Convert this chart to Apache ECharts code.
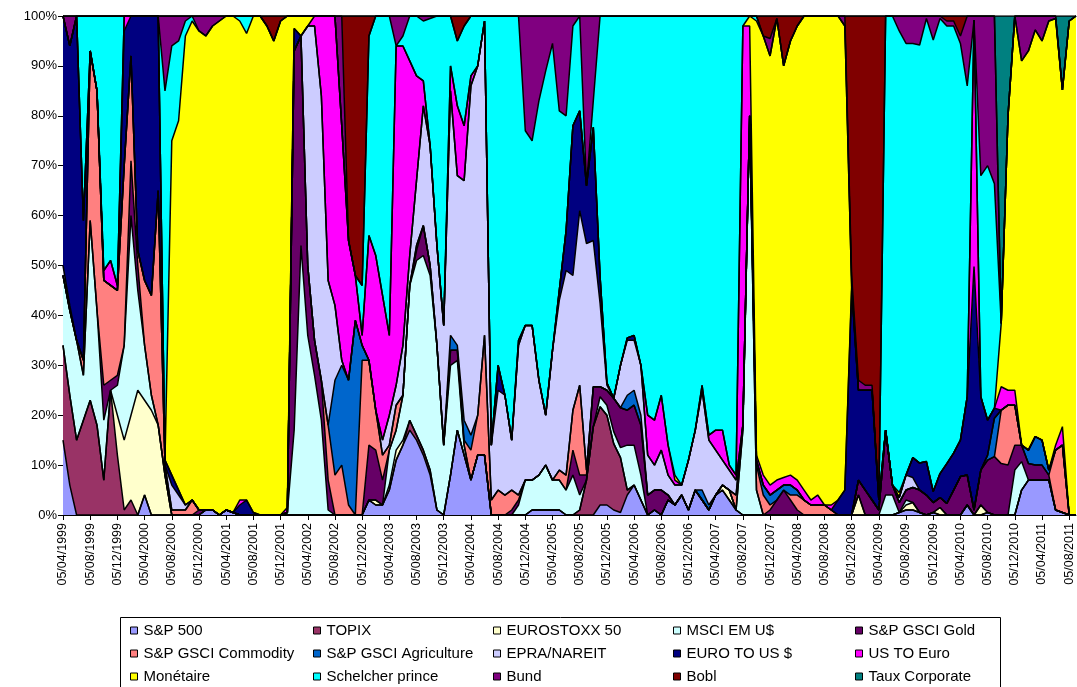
<!DOCTYPE html>
<html>
<head>
<meta charset="utf-8">
<script src="https://cdn.jsdelivr.net/npm/echarts@6/dist/echarts.min.js"></script>
<style>
html,body{margin:0;padding:0;background:#fff;}
#chart{width:1077px;height:687px;}
</style>
</head>
<body>
<div id="chart"></div>
<script>
// Categories: monthly dates 05/04/1999 .. 05/09/2011
const categories = [];
for (let k = 0; k < 150; k++) {
  const m = (3 + k) % 12 + 1;
  const y = 1999 + Math.floor((3 + k) / 12);
  categories.push('05/' + (m < 10 ? '0' + m : m) + '/' + y);
}
const yTicks = [0,10,20,30,40,50,60,70,80,90,100];

const sp500 = [
15,6,0,0,0,0,0,0,0,0,
0,0,4,0,0,0,0,0,0,0,
0,1,1,0,1,0.5,0,0,0,0,
0,0,0,0,0,0,0,0,0,0,
0,0,0,0,0,3,2,2,5,11,
14,17,15,12,8,1,0,8,17,12,
7,12,12,0,0,0,0,0,0,1,
1,1,1,1,0,0,0,0,0,2,
2,1,0.5,4,6,3,0,1,0,3,
2,4,1,5,3,1,4,5,3,1,
0,0,0,0,0,0,0,0,0,0,
0,0,0,0,0,0,0,0,0,0,
0,0,0,0.5,1,1,0.5,0,0.5,0,
0,0,0,2,0,0,0.5,0,0,0,
0,5,7,7,7,7,1,0.5,0,0];

const topix = [
19,18,15,19,23,18,7,25,12,1,
3,0,0,0,0,0,0,0,0,0,
0,0,0,0,0,0,0,0,0,0,
0,0,0,0,0,0,0,0,0,0,
0,0,0,0,0,0,0,0,0,0,
0,2,1,1,1,0,0,0,0,0,
0,0,0,0,0,0,0,0,0,0,
0,0,0,0,0,0,1,7,17.7,19.7,
18,13.3,11,1,0,0,0,0,0,0,
0,0,0,0,0,0,0,0,0,0,
0,0,0,0,0,0,0,0,0,0,
0,0,0,0,0,0,0,0,0,0,
0,0,0,0,0,0,0,0,0,0,
0,0,0,0,0,0,0,0,0,0,
0,0,0,0,0,0,0,0,0,0];

const eurostoxx = [
0,0,0,0,0,0,0,0,8,14,
17,25,19,21,18,8,0,0,0,0,
0,0,0,0,0,0,0,0,0,0,
0,0,0,0,0,0,0,0,0,0,
0,0,0,0,0,0,1,0,1,2,
1,0,0,0,0,0,0,0,0,0,
0,0,0,0,0,0,0,0,0,0,
0,0,0,0,0,0,0,0,0,0,
0,0,0,0,0,0,0,0,0,0,
0,0,0,0,0,0,0,1,2,0,
0,0,0,0,0,0,0,0,0,0,
0,0,0,0,0,0,0,4,0,0,
0,0,0,0,1,1.5,0,0,0,1.5,
0,0,0,0,0,2,0,0,0,0,
0,0,0,0,0,0,0,0,0,0];

const msciEm = [
14,17,20,9,36,23,12,0,6,19,
40,20,11,3,0,0,0,0,0,0,
0,0,0,0,0,0,0,0,0,0,
0,0,0,0.5,17,54,36,28,19,1,
0,0,0,0,0,0,0,0,7,4,
9,27,35,39,39,33,14,22,14,2,
0,0,0,0,0,0,0,2,7,6,
7,9,6,6,5,8,3,0,0,2,
2,2.4,2,9,8,5,0,0,0,0,
0,0,0,0,0,0,0,0,0,0,
17,80,5,0,0,0,0,0,0,0,
0,0,0,0,0,0,0,0,0,0,
0,4,4,0,1,0,0,0,0,0,
0,0,0,0,0,0,0,0,0,0,
9,5.7,0,0,0,0,0,0,0,0];

const gold = [
0,0,0,0,0,0,7,2,2,0,
11,5,0,0,0,0,0,0,0,0,
1,0,0,0,0,0,0,0,0,0,
0,0,0,0,76,42,14,7,8,6,
0,0,0,0,0,11,10,5,0,0,
0,0,2,6,2,0,0,3,2,0,
0,0,0,0,0,0,1,1,0,0,
0,0,0,0,0,5,4,1,8,2,
3,6.7,8,7,8,10,4,4,5,1,
0,0,0,0,0,0,0,0,0,0,
0,0,0,0,1,3,5,3,1,0,
0,0,0,0,0,0,0,3,5,3,
1,13,2,2,2,3,4.5,4,2,2,
2.3,5,7.7,6,1,7,10.5,11.7,10.3,10,
5,3.3,3.3,3,3,1,0,0,0,0];

const commodity = [
0,0,0,3,34,44,21,19,17,36,
21,3,13,20,47,2,1,1,1,3,
0,0,0,0,0,0,0,0,0,0,
0,0,0,0,0,0,0,0,0,11,
8,10,2,0,31,17,8,5,1,5,
0,0,1,0,0,0,0,0,0,1,
6,8,24,3,5,4,4,1,0,0,
0,0,0,2,3,8,18,1,0,0,
0,0,0,0,0,0,0,0,0,0,
0,0,0,0,0,0,0,0,0,3,
1,0,5,4,1,0,0,1,3,3,
2,2,2,1,0,0,0,0,0,0,
0,0,0,0,0,0,0,0,0,0,
0,0,0,0,0,0,0,0,10.7,12,
8,0,0,0,0,0,12,13.5,0,0];

const agriculture = [
0,0,0,0,0,0,0,0,0,0,
0,0,0,0,0,0,0,0,0,0,
0,0,0,0,0,0,0,0,0,0,
0,0,0,0,0,0,0,0,0,0,
19,20,25,39,3,0,0,0,0,0,
0,0,0,0,0,0,0,3,1,4,
3,0,0,0,0,0,0,0,0,0,
0,0,0,0,0,0,0,0,0,0,
0,0,0,3,3,2,0,0,0,0,
0,0,0,0,2,1,0,0,0,0,
0,0,1,2,2,2,1,2,1,0,
0,0,0,0,0,0,0,0,0,0,
0,0,0,0,0,0,0,0,0,0,
0,0,0,0,0,0,1,7.7,0,0,
0,0,2.7,5.7,5,1,0,0,0,0];

const epra = [
2,1,0,0,0,0,0,0,0,0,
0,0,0,0,0,0,5,3,1,0,
0,0,0,0,0,0,0,0,0,0,
0,0,0,0,0,0,48,63,57,29,
15,1,0,0,0,0,0,3,6,4,
10,6,13,24,24,20,24,49,34,48,
70,70,63,11,20,20,10,30,31,31,
19,10,26,34,41,27,35,45.4,29.3,16.7,
1,0,8.5,11,10,10,8,5,8,4,
4,2,10,12,20,13,9,5,4,3,
0,0,0,0,0,0,0,0,0,0,
0,0,0,0,0,0,0,0,0,0,
0,0,0,1,3,2,0,0,0,0,
0,0,0,0,0,0,0,0,0,0,
0,0,0,0,0,0,0,0,0,0];

const euroToUs = [
50,52,65,28,0,0,0,0,0,27,
8,47,53,56,35,1,2,1,0,0,
0,0,0,0,0,0,2,3,0.5,0,
0,0,0,0,4.5,0,0,0,0,0,
0,0,0,0,0,0,0,0,0,0,
0,0,0,0,0,0,0,0,0,0,
0,0,0,0,5,0,0,0,0,0,
0,0,0,2,8,30,20,11.6,22.7,5.3,
0.5,0,0,0.5,1,0,0,0,0,0,
0,0,0,0,0,0,0,0,0,0,
0,0,0,0,0,0,0,0,0,0,
0,0,0,0,3,5,45,18,20,22,
2,0,0,0,0,4,5.4,6.7,2.2,4.8,
8,7.4,7.3,15.7,48.8,14.7,7,2,0,0,
0,0,0,0,0,0,0,0,0,0];

const usToEuro = [
0,0,0,0,0,0,2,5,1,3,
0,0,0,0,0,0,0,0,0,0,
0,0,0,0,0,0,1,0,0,0,
0,0,0,1,0,0,0,2,16,53,
58,47,28,9,2,25,31,29,16,68,
60,39,21,5,0,0,0,5,14,11,
2,0,0,0,0,0,0,1,0,0,
0,0,0,0,0,0,0,0,0,0,
0,0,0,0,0,0,8,9,11,6,
1,0,0,0,1,1,4,6,1,1,
80,18,1,2,2,2,1.5,2,2,2,
1,2,0,1,0,0,1,0,0,0,
0,0,0,0,0,0,0,0,0,0,
0,0,0,0,49.4,0,0,0,4.7,3,
3,0,0,0,0,0,1,3.7,0,0];

const monetaire = [
0,0,0,0,0,0,0,0,0,0,
0,0,0,0,0,0,67,74,94,96,
96,95,97,99,99,99.5,96,93.5,99.5,100,
98,95,99,98.5,2.5,4,2,0,0,0,
0,0,0,0,0,0,0,0,0,0,
0,0,0,0,0,0,0,0,0,0,
0,0,0,0,0,0,0,0,0,0,
0,0,0,0,0,0,0,0,0,0,
0,0,0,0,0,0,0,0,0,0,
1,0,0,0,0,0,0,0,0,0,
0,2,87,88,86,92.5,82.5,87,91,95,
97,96,98,98,97,93,0,0,0,0,
0,0,0,1,0,0,0,0,0,0,
0,0,0,0,0,0,0,0,12.7,55,
75,77,80,81.5,80,90,85.5,67.5,99,100];

const schelcher = [
0,0,0,41,7,15,51,49,54,0,
0,0,0,0,0,74,19,16,3,1,
0,0,0,0,0,0,1,3.5,0,0,
0,0,0,0,0,0,0,0,0,0,
0,0,0,0,10,40,48,56,64,0,
2,9,12,12,25.5,46,62,10,13,20,
12,10,1,86,70,76,85,65,39,37,
56,69,61.5,36,23,20,19,0,5.3,52.3,
73.5,76.6,70,64.5,64,70,80,81,76,86,
92,94,89,83,74,84,83,83,90,92,
2,0,1,0,0,0,0,0,0,0,
0,0,0,0,0,0,0,0,0,0,
0,83,94,92.5,86.5,83,83.8,88.8,90.5,91.2,
87.7,85.6,79.5,62.3,0,44.3,51,45,0,0,
0,0,0,0,0,0,0,0,0,0];

const bund = [
0,6,0,0,0,0,0,0,0,0,
0,0,0,0,0,15,6,5,1,0,
3,4,2,1,0,0,0,0,0,0,
0,0,0,0,0,0,0,0,0,0,
0,22,0,0,0,0,0,0,0,6,
4,0,0,1,0.5,0,0,0,0,0,
0,0,0,0,0,0,0,0,23,25,
17,11,5.5,19,20,2,0,34,17,0,
0,0,0,0,0,0,0,0,0,0,
0,0,0,0,0,0,0,0,0,0,
0,0,0,0,3.5,0,0,0,0,0,
0,0,0,0,0,2,2,2,1,1,
0,0,0,3,5.5,5.5,5.8,0.5,4.8,0.5,
1,1,1.5,14,0.8,32,30,33.6,0,0,
0,9,7,2.8,5,1,0.5,0,0,0];

const bobl = [
0,0,0,0,0,0,0,0,0,0,
0,0,0,0,0,0,0,0,0,0,
0,0,0,0,0,0,0,0,0,0,
2,5,1,0,0,0,0,0,0,0,
0,0,45,52,54,4,0,0,0,0,
0,0,0,0,0,0,0,0,5,2,
0,0,0,0,0,0,0,0,0,0,
0,0,0,0,0,0,0,0,0,0,
0,0,0,0,0,0,0,0,0,0,
0,0,0,0,0,0,0,0,0,0,
0,0,0,4,4.5,0.5,10,5,2,0,
0,0,0,0,0,0,52,73,74,74,
97,0,0,0,0,0,0,0,0,0,
1,1,4,0,0,0,0,0,0,0,
0,0,0,0,0,0,0,0,0,0];

const tauxCorporate = [
0,0,0,0,0,0,0,0,0,0,
0,0,0,0,0,0,0,0,0,0,
0,0,0,0,0,0,0,0,0,0,
0,0,0,0,0,0,0,0,0,0,
0,0,0,0,0,0,0,0,0,0,
0,0,0,0,0,0,0,0,0,0,
0,0,0,0,0,0,0,0,0,0,
0,0,0,0,0,0,0,0,0,0,
0,0,0,0,0,0,0,0,0,0,
0,0,0,0,0,0,0,0,0,0,
0,0,0,0,0,0,0,0,0,0,
0,0,0,0,0,0,0,0,0,0,
0,0,0,0,0,0,0,0,0,0,
0,0,0,0,0,0,0,0,61.6,20,
0,0,0,0,0,0,0,14.8,1,0];

const seriesNames = ['S&P 500','TOPIX','EUROSTOXX 50','MSCI EM U$','S&P GSCI Gold',
  'S&P GSCI Commodity','S&P GSCI Agriculture','EPRA/NAREIT','EURO TO US $','US TO Euro',
  'Monétaire','Schelcher prince','Bund','Bobl','Taux Corporate'];
const seriesData = [sp500, topix, eurostoxx, msciEm, gold, commodity, agriculture, epra,
  euroToUs, usToEuro, monetaire, schelcher, bund, bobl, tauxCorporate];
const seriesColors = ['#9999FF','#993366','#FFFFCC','#CCFFFF','#660066','#FF8080','#0066CC',
  '#CCCCFF','#000080','#FF00FF','#FFFF00','#00FFFF','#800080','#800000','#008080'];

seriesData.forEach((d, k) => {
  if (d.length !== categories.length) throw new Error('Length mismatch ' + seriesNames[k] + ' ' + d.length);
});

const FONT = '"Liberation Sans", Arial, sans-serif';

const series = seriesNames.map((name, k) => ({
  name: name,
  type: 'line',
  stack: 'total',
  data: seriesData[k],
  symbol: 'none',
  showSymbol: false,
  smooth: false,
  clip: true,
  color: seriesColors[k],
  itemStyle: { color: seriesColors[k] },
  lineStyle: { color: '#000', width: 1.5 },
  areaStyle: { color: seriesColors[k], opacity: 1 },
  emphasis: { disabled: true }
}));

// legend: 5 columns x 3 rows, one component per entry
const colX = [130, 313, 493, 673, 855];
const legends = seriesNames.map((name, k) => ({
  orient: 'horizontal',
  left: colX[k % 5],
  top: 623 + Math.floor(k / 5) * 23,
  icon: 'rect',
  itemWidth: 7,
  itemHeight: 7,
  itemGap: 6,
  padding: 0,
  selectedMode: false,
  itemStyle: { borderColor: '#000', borderWidth: 1 },
  textStyle: { fontFamily: FONT, fontSize: 15, color: '#000', padding: [0, 0, 0, 1] },
  data: [name]
}));

const chart = echarts.init(document.getElementById('chart'), null, { renderer: 'canvas' });
chart.setOption({
  animation: false,
  backgroundColor: '#fff',
  grid: { left: 63, right: 1, top: 16, bottom: 172, containLabel: false },
  legend: legends,
  graphic: [{
    type: 'rect',
    shape: { x: 120.5, y: 617.5, width: 880, height: 75 },
    style: { fill: 'none', stroke: '#000', lineWidth: 1 },
    silent: true, z: -1
  }],
  xAxis: {
    type: 'category',
    data: categories,
    boundaryGap: false,
    axisLine: { lineStyle: { color: '#000', width: 1 } },
    axisTick: { interval: 3, length: 5, lineStyle: { color: '#000' } },
    axisLabel: { interval: 3, rotate: 90, fontFamily: FONT, fontSize: 12.5, color: '#000', margin: 8 },
    splitLine: { show: false }
  },
  yAxis: {
    type: 'value',
    min: 0, max: 100, interval: 10,
    axisLine: { show: true, lineStyle: { color: '#000', width: 1 } },
    axisTick: { show: true, length: 5, lineStyle: { color: '#000' } },
    axisLabel: { formatter: v => (yTicks.indexOf(v) >= 0 ? v + '%' : ''), fontFamily: FONT, fontSize: 13, color: '#000', margin: 6 },
    splitLine: { show: false }
  },
  series: series
});
</script>
</body>
</html>
